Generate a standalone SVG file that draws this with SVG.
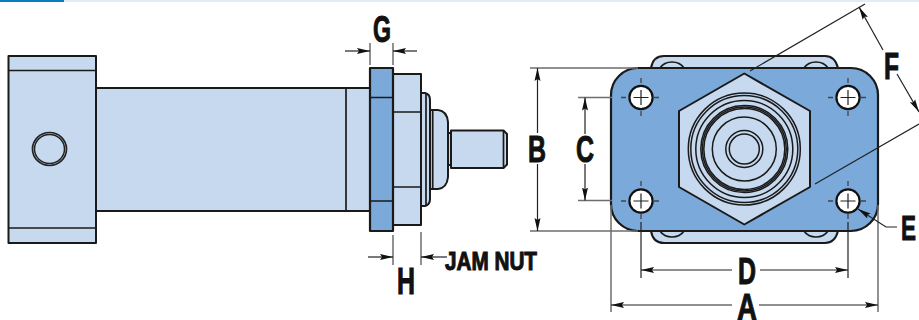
<svg xmlns="http://www.w3.org/2000/svg" width="919" height="320" viewBox="0 0 919 320">
<style>
.l{fill:#c6d9ef;stroke:#1a1a1a;stroke-width:2;stroke-linejoin:round}
.d{fill:#7aa9da;stroke:#1a1a1a;stroke-width:2.200;stroke-linejoin:round}
.e{fill:none;stroke:#1a1a1a;stroke-width:1.700}
.r{fill:none;stroke:#1a1a1a;stroke-width:1.500}
.x{fill:none;stroke:#6e6e6e;stroke-width:1.500}
.m{fill:none;stroke:#222;stroke-width:1.200}
.a{marker-end:url(#ah)}
.c{fill:none;stroke:#444;stroke-width:1.300;stroke-dasharray:5 6}
.h{fill:#fff;stroke:#111;stroke-width:2.200}
.t{font-family:"Liberation Sans",Arial,sans-serif;font-weight:700;fill:#111;font-size:36px;stroke:#111;stroke-width:1}
</style>
<defs>
<marker id="ah" markerUnits="userSpaceOnUse" markerWidth="14" markerHeight="8" refX="13" refY="4" orient="auto"><path d="M0 1L13 4L0 7L2 4Z" fill="#111"/></marker>
<g id="hole"><circle class="h" r="11.600"/><path class="m" d="M-7.500 0H7.500M0 -7.500V7.500"/></g>
</defs>
<rect x="0" y="0" width="919" height="2" fill="#e2ecf8"/>
<rect x="0" y="0" width="64" height="2" fill="#0a7cc1"/>

<g id="side-view">
<rect class="l" x="96" y="88" width="274" height="123"/>
<path class="e" d="M346 88V211"/>
<rect class="l" x="8.500" y="56" width="87.500" height="187"/>
<path class="e" d="M8.500 70.500H96M8.500 228H96"/>
<ellipse cx="49.500" cy="149" rx="17" ry="16.500" fill="none" stroke="#222" stroke-width="1.700"/>
<ellipse cx="49.500" cy="149" rx="15" ry="14.500" fill="none" stroke="#222" stroke-width="1.500"/>
<path class="l" d="M421 93H425Q430 94 430 100V199Q430 205 425 206H421Z"/>
<path class="l" d="M430 110H438Q447 111 448 122V177Q447 188 438 189H430Z"/>
<path class="e" d="M432.700 110V189M426 93V206" stroke-width="1.200"/>
<path class="l" d="M448 133H451V165H448Z"/>
<path class="l" d="M451 130.500H503.500L507 134V164.500L503.500 168H451Z"/>
<path class="e" d="M503.500 130.500V168" stroke-width="1.200"/>
<rect class="l" x="393" y="74" width="28" height="151"/>
<path class="e" d="M393 112H421M393 187H421"/>
<rect class="d" x="370" y="68" width="23" height="163"/>
<path class="e" d="M370 97.500H393M370 201H393"/>
</g>

<g id="front-view">
<path class="l" d="M651 68Q653 56 664 56H825Q835 56 838 68V231Q835 243 825 243H664Q653 243 651 231Z"/>
<path class="e" d="M660 68Q664 62 672 62Q680 62 684 68M804 68Q808 62 816 62Q824 62 828 68M660 231Q664 237 672 237Q680 237 684 231M804 231Q808 237 816 237Q824 237 828 231"/>
<rect class="d" x="611" y="68" width="267" height="163" rx="27" ry="27"/>
<path class="l" d="M744.300 73.500L810 111V187L744.300 224.500L679 187V111Z"/>
<g class="r">
<circle cx="744.300" cy="149" r="56"/>
<circle cx="744.300" cy="149" r="53.500"/>
<circle cx="744.300" cy="149" r="48.500"/>
<circle cx="744.300" cy="149" r="43.500"/>
<circle cx="744.300" cy="149" r="42"/>
<circle cx="744.300" cy="149" r="40.500"/>
<circle cx="744.300" cy="149" r="32"/>
<circle cx="744.300" cy="149" r="18.500"/>
<circle cx="744.300" cy="149" r="15"/>
</g>
<path class="c" d="M621 97.500H661M828 97.500H868M621 201H661M828 201H868M641 78V118M848 78V118M641 181V222M848 181V222"/>
<use href="#hole" x="641" y="97.500"/>
<use href="#hole" x="848" y="97.500"/>
<use href="#hole" x="641" y="201"/>
<use href="#hole" x="848" y="201"/>
</g>

<g id="connectors">
<path class="x" d="M370 43V65M393 43V65M393 235V265M421 232V265"/>
<path class="m a" d="M345 51H370"/>
<path class="m a" d="M417 51H393"/>
<path class="m a" d="M368 257H393"/>
<path class="m a" d="M447 257H421"/>
<path class="x" d="M530 68H638M530 231H638M578 97.500H612M578 200.500H612"/>
<path class="m a" d="M537.500 133V68"/>
<path class="m a" d="M537.500 164V231"/>
<path class="m a" d="M585 134V97.500"/>
<path class="m a" d="M585 164V200.500"/>
<path class="x" d="M611 205V312M878 205V312"/>
<path class="m" d="M641 222V278M848 222V278"/>
<path class="m a" d="M732 270H641"/>
<path class="m a" d="M760 270H848"/>
<path class="m a" d="M732 305H611"/>
<path class="m a" d="M759 305H878"/>
<path class="m" d="M750 71L865 4M815 184L919 124"/>
<path class="m a" d="M883 50L859 7"/>
<path class="m a" d="M897 74L919 112"/>
<path class="m a" d="M897 227H886L858 209"/>
</g>

<g id="labels">
<text class="t" x="373" y="42" textLength="18" lengthAdjust="spacingAndGlyphs">G</text>
<text class="t" x="528" y="162" textLength="18" lengthAdjust="spacingAndGlyphs">B</text>
<text class="t" x="576" y="162" textLength="18" lengthAdjust="spacingAndGlyphs">C</text>
<text class="t" x="397" y="294" textLength="18" lengthAdjust="spacingAndGlyphs">H</text>
<text class="t" x="445" y="270" textLength="92" lengthAdjust="spacingAndGlyphs" style="font-size:25px">JAM NUT</text>
<text class="t" x="738" y="284" textLength="18" lengthAdjust="spacingAndGlyphs">D</text>
<text class="t" x="737" y="320" textLength="20" lengthAdjust="spacingAndGlyphs">A</text>
<text class="t" x="884" y="79" textLength="15" lengthAdjust="spacingAndGlyphs">F</text>
<text class="t" transform="translate(901 240) scale(.625 1)">E</text>
</g>
</svg>
